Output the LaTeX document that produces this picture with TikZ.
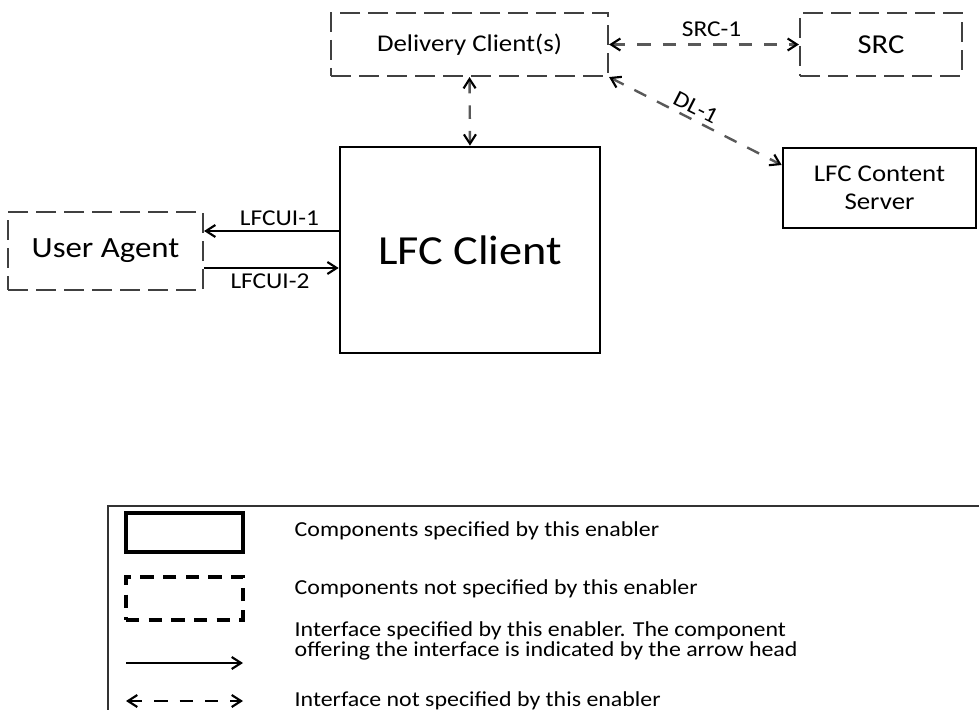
\documentclass[tikz,border=0pt]{standalone}
\usepackage{fontspec}
\setmainfont{Carlito}[FakeStretch=1.12]
\usetikzlibrary{arrows.meta}

\tikzset{
  specbox/.style={draw, line width=2pt, minimum width=#1, inner sep=0pt, align=center},
  otherbox/.style={draw=black!75, line width=1.6pt, dash pattern={on 15pt off 6pt}, minimum width=#1, inner sep=0pt, align=center},
  specif/.style={line width=1.6pt, -{Straight Barb[length=7pt,width=9pt,line width=1.6pt]}},
  otherif/.style={draw=black!65, line width=1.8pt, dash pattern={on 10pt off 9pt}, {Straight Barb[length=7pt,width=9pt,line width=1.6pt,black]}-{Straight Barb[length=7pt,width=9pt,line width=1.6pt,black]}},
  iflabel/.style={font=\fontsize{17}{19}\selectfont, text=black},
  legtext/.style={anchor=west, font=\fontsize{16}{15}\selectfont, align=left}
}

\begin{document}
\begin{tikzpicture}[x=0.75pt,y=0.75pt,yscale=-1,xscale=1]
\useasboundingbox (0,0) rectangle (979,710);

% Components
\node[otherbox=207.75pt, minimum height=47.25pt, font=\fontsize{18}{20}\selectfont] (deliv) at (469.5,44.5) {Delivery Client(s)};
\node[otherbox=121.5pt, minimum height=47.25pt, font=\fontsize{20.5}{22}\selectfont] (src) at (881,44.5) {SRC};
\node[specbox=144.75pt, minimum height=60pt, font=\fontsize{18}{21}\selectfont] (lfcs) at (879.5,188) {LFC Content\\Server};
\node[specbox=195pt, minimum height=154.5pt, font=\fontsize{31}{33}\selectfont] (lfc) at (470,250) {LFC Client};
\node[otherbox=146.25pt, minimum height=58.5pt, font=\fontsize{22}{24}\selectfont] (ua) at (105.5,251) {User Agent};

% Interfaces
\draw[otherif] (deliv.east) -- node[iflabel, above=2pt, pos=0.54] {SRC-1} (src.west);
\draw[otherif] (deliv.south) -- (lfc.north);
\draw[otherif] (deliv.south east) -- node[iflabel, rotate=-27, anchor=south, inner sep=3pt, pos=0.47] {DL-1} ([yshift=-17.25pt]lfcs.west);
\draw[specif] ([yshift=-14.25pt]lfc.west) -- node[iflabel, above=0pt, pos=0.44] {LFCUI-1} ([yshift=-15pt]ua.east);
\draw[specif] ([yshift=12.75pt]ua.east) -- node[iflabel, below=0pt, pos=0.49] {LFCUI-2} ([yshift=13.5pt]lfc.west);

% Legend
\draw[line width=0.8pt, black!80] (108,712) -- (108,506) -- (981,506);
\node[draw, line width=2.4pt, minimum width=87.75pt, minimum height=29.25pt] (legspec) at (184.5,532.5) {};
\node[draw, line width=2.4pt, dash pattern={on 10pt off 7pt}, minimum width=87.75pt, minimum height=32.25pt] (legother) at (184.5,598.5) {};
\coordinate (ifa) at (126,663);
\coordinate (ifb) at (243,663);
\coordinate (ifc) at (126,701);
\coordinate (ifd) at (243,701);
\draw[specif] (ifa) -- (ifb);
\draw[line width=1.8pt, dash pattern={on 10pt off 9pt}, {Straight Barb[length=7pt,width=9pt,line width=1.6pt]}-{Straight Barb[length=7pt,width=9pt,line width=1.6pt]}] (ifc) -- (ifd);

% Text Node
\node[legtext] (legspectxt) at (290,531) {Components specified by this enabler};
\node[legtext] (legothertxt) at (290,589) {Components not specified by this enabler};
\node[legtext] (legiftxt) at (290,641) {Interface specified by this enabler. The component\\offering the interface is indicated by the arrow head};
\node[legtext] (legnotiftxt) at (290,701) {Interface not specified by this enabler};

\end{tikzpicture}
\end{document}
